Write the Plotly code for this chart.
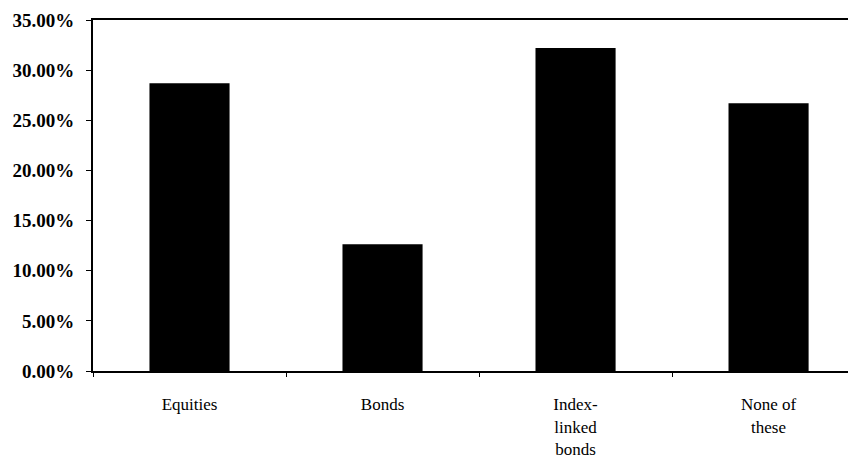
import plotly.graph_objects as go

categories = ["Equities", "Bonds", "Index-linked bonds", "None of these"]
tick_labels = ["Equities", "Bonds", "Index-<br>linked<br>bonds", "None of<br>these"]
values = [28.7, 12.65, 32.2, 26.7]
y_ticks = [0, 5, 10, 15, 20, 25, 30, 35]
y_tick_text = [f"{v:.2f}%" for v in y_ticks]

fig = go.Figure(go.Bar(
    x=categories, y=values, width=0.415,
    marker=dict(color="black", line=dict(width=0)),
))

# page body has an 8px default margin, so the figure is sized to fit
fig.update_layout(
    width=848, height=464,
    margin=dict(l=85, r=0, t=12, b=101, autoexpand=False),
    paper_bgcolor="white", plot_bgcolor="white",
    showlegend=False,
    font=dict(family="Liberation Serif", color="black"),
)
fig.update_xaxes(
    type="category", range=[-0.5, 3.453], automargin=False,
    tickvals=categories, ticktext=tick_labels,
    tickson="boundaries", ticks="outside", ticklen=4, tickcolor="black",
    showline=True, linecolor="black", linewidth=2, mirror=True,
    showgrid=False, tickfont=dict(size=17), ticklabelstandoff=17,
)
fig.update_yaxes(
    range=[0, 35], tickvals=y_ticks, ticktext=y_tick_text, automargin=False,
    ticks="outside", ticklen=5, tickcolor="black",
    showline=True, linecolor="black", linewidth=2,
    showgrid=False, zeroline=False,
    tickfont=dict(size=19, family="Liberation Serif", weight="bold"),
    ticklabelstandoff=8,
)

fig.write_html("out.html")
